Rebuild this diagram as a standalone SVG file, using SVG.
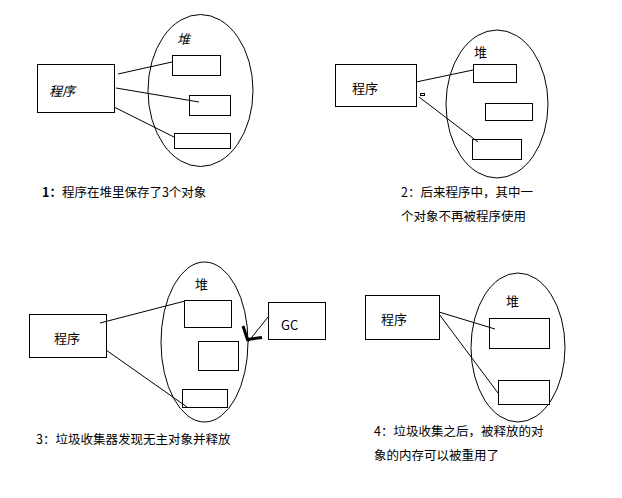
<svg xmlns="http://www.w3.org/2000/svg" width="622" height="498" viewBox="0 0 622 498">
<style>
.b{fill:#fff;stroke:#000;stroke-width:1}
.e{fill:none;stroke:#000;stroke-width:1}
.c line{stroke:#000;stroke-width:1}
text{font-family:"Noto Sans CJK SC","Microsoft YaHei",sans-serif;font-size:13px;fill:#000}
.lbl{font-size:13px}
.cap{font-size:12.5px}
</style>
<rect width="622" height="498" fill="#fff"/>

<!-- Panel 1 -->
<g id="heap1"><ellipse class="e" cx="200.5" cy="90.5" rx="52.5" ry="76"/><text x="177" y="44" font-style="italic" class="lbl">堆</text></g>
<g id="prog1"><rect class="b" x="37.5" y="64.5" width="77" height="48"/><text x="49" y="96" font-style="italic" font-size="14">程序</text></g>
<g id="obj1a"><rect class="b" x="172.5" y="55.5" width="48" height="20"/></g>
<g id="obj1b"><rect class="b" x="189.5" y="95.5" width="41" height="20"/></g>
<g id="obj1c"><rect class="b" x="174.5" y="133.5" width="56" height="15"/></g>
<g class="c" id="conn1">
<line x1="118" y1="74" x2="172" y2="62"/>
<line x1="116" y1="88" x2="199" y2="102"/>
<line x1="114" y1="107" x2="174" y2="137"/>
</g>
<text x="42" y="197" class="cap"><tspan font-weight="bold">1：</tspan>程序在堆里保存了3个对象</text>

<!-- Panel 2 -->
<g id="heap2"><ellipse class="e" cx="497" cy="104" rx="51" ry="74"/><text x="474" y="57" class="lbl">堆</text></g>
<g id="prog2"><rect class="b" x="335.5" y="64.5" width="81" height="42"/><text x="352" y="93">程序</text></g>
<g id="obj2a"><rect class="b" x="473.5" y="64.5" width="43" height="18"/></g>
<g id="obj2b"><rect class="b" x="485.5" y="103.5" width="47" height="17"/></g>
<g id="obj2c"><rect class="b" x="472.5" y="139.5" width="49" height="20"/></g>
<g id="tiny2"><rect class="b" x="420.5" y="93.5" width="4" height="2"/></g>
<g class="c" id="conn2">
<line x1="416" y1="82" x2="473" y2="70"/>
<line x1="419" y1="97" x2="478" y2="142"/>
</g>
<text x="401" y="197" class="cap">2：后来程序中，其中一</text>
<text x="401" y="221" class="cap">个对象不再被程序使用</text>

<!-- Panel 3 -->
<g id="heap3"><ellipse class="e" cx="204.5" cy="342" rx="43.5" ry="80"/><text x="195" y="289" class="lbl">堆</text></g>
<g id="prog3"><rect class="b" x="29.5" y="314.5" width="77" height="43"/><text x="54" y="343">程序</text></g>
<g id="obj3a"><rect class="b" x="184.5" y="300.5" width="47" height="27"/></g>
<g id="obj3b"><rect class="b" x="198.5" y="341.5" width="40" height="29"/></g>
<g id="obj3c"><rect class="b" x="182.5" y="389.5" width="45" height="18"/></g>
<g id="gc"><rect class="b" x="268.5" y="302.5" width="57" height="37"/><text x="281" y="330" font-family="'Noto Sans',sans-serif" font-size="14">GC</text></g>
<g class="c" id="conn3">
<line x1="100" y1="323" x2="185" y2="301"/>
<line x1="106" y1="350" x2="187" y2="407"/>
<line x1="268" y1="317" x2="248" y2="342"/>
</g>
<polyline points="243,326 247.5,339.5 262,337.5" fill="none" stroke="#000" stroke-width="3" stroke-linejoin="miter"/>
<text x="36" y="444" class="cap">3：垃圾收集器发现无主对象并释放</text>

<!-- Panel 4 -->
<g id="heap4"><ellipse class="e" cx="518" cy="347.5" rx="47" ry="74.5"/><text x="506" y="306" class="lbl">堆</text></g>
<g id="prog4"><rect class="b" x="365.5" y="295.5" width="74" height="44"/><text x="381" y="324">程序</text></g>
<g id="obj4a"><rect class="b" x="489.5" y="318.5" width="60" height="30"/></g>
<g id="obj4b"><rect class="b" x="498.5" y="380.5" width="51" height="24"/></g>
<g class="c" id="conn4">
<line x1="439" y1="312" x2="495" y2="329"/>
<line x1="439" y1="314" x2="498" y2="393"/>
</g>
<text x="374" y="436" class="cap">4：垃圾收集之后，被释放的对</text>
<text x="374" y="460" class="cap">象的内存可以被重用了</text>
</svg>
